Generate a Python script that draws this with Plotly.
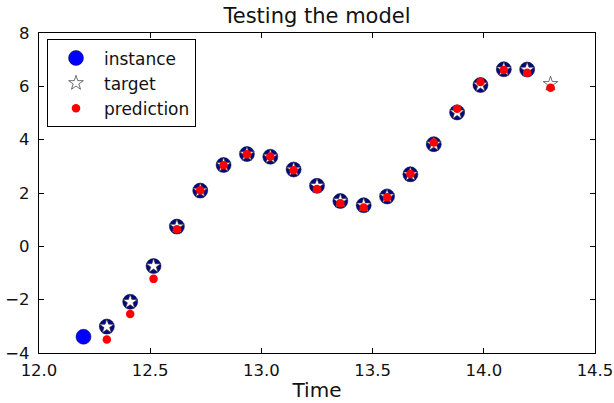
import plotly.graph_objects as go

# Time stamps of the instance window (21 steps)
time_steps = [12.2, 12.305, 12.41, 12.515, 12.62, 12.725, 12.83, 12.935, 13.04,
              13.145, 13.25, 13.355, 13.46, 13.565, 13.67, 13.775, 13.88,
              13.985, 14.09, 14.195, 14.3]

# Series values
series_values = [-3.39, -3.01, -2.08, -0.74, 0.74, 2.09, 3.05, 3.46, 3.36,
                 2.88, 2.27, 1.70, 1.54, 1.87, 2.70, 3.83, 5.02, 6.05,
                 6.64, 6.63, 6.09]

# Model predictions (aligned with target times)
prediction_values = [-3.49, -2.54, -1.22, 0.64, 2.10, 3.04, 3.45, 3.37, 2.85,
                     2.15, 1.62, 1.46, 1.84, 2.71, 3.89, 5.16, 6.16, 6.61,
                     6.51, 5.95]

x_ticks = [12.0, 12.5, 13.0, 13.5, 14.0, 14.5]
y_ticks = [-4, -2, 0, 2, 4, 6, 8]

instance_t = time_steps[:-1]
instance_v = series_values[:-1]
target_t = time_steps[1:]
target_v = series_values[1:]

FONT = "DejaVu Sans"

inst_colors = ["#0000ff"] + ["#00087f"] * (len(instance_t) - 1)

fig = go.Figure()
fig.add_trace(go.Scatter(
    x=instance_t, y=instance_v, mode="markers", name="instance",
    marker=dict(symbol="circle", size=15, color=inst_colors,
                line=dict(color="#000040", width=0.5)),
))
fig.add_trace(go.Scatter(
    x=target_t, y=target_v, mode="markers", name="target",
    marker=dict(symbol="star", size=11, color="white",
                line=dict(color="#333333", width=0.7)),
))
fig.add_trace(go.Scatter(
    x=target_t, y=prediction_values, mode="markers", name="prediction",
    marker=dict(symbol="circle", size=8.5, color="#ff0000",
                line=dict(width=0)),
))

axis_common = dict(
    showline=True, linecolor="black", linewidth=1.3, mirror="ticks",
    ticks="inside", ticklen=5, tickwidth=1, tickcolor="black",
    showgrid=False, zeroline=False, automargin=False,
    tickfont=dict(family=FONT, size=16.5, color="#111111"),
)

fig.update_layout(
    width=614, height=403,
    margin=dict(l=39, r=19, t=33, b=50),
    paper_bgcolor="white", plot_bgcolor="white",
    font=dict(family=FONT, color="#111111"),
    title=dict(text="Testing the model", x=0.5, xanchor="center",
               xref="paper", y=1, yref="container", yanchor="top",
               pad=dict(t=8),
               font=dict(family=FONT, size=21, color="#111111")),
    xaxis=dict(range=[12.0, 14.5], tickvals=x_ticks,
               ticktext=[f"{v:.1f}" for v in x_ticks],
               ticklabelstandoff=2,
               title=dict(text="Time", font=dict(family=FONT, size=20, color="#111111"),
                          standoff=4),
               **axis_common),
    yaxis=dict(range=[-4, 8], tickvals=y_ticks,
               ticktext=[("\u2212" if v < 0 else "") + str(abs(v)) for v in y_ticks],
               ticklabelstandoff=5,
               **axis_common),
    showlegend=True,
    legend=dict(x=0.0144, y=0.98, xanchor="left", yanchor="top",
                bordercolor="black", borderwidth=1, bgcolor="white",
                font=dict(family=FONT, size=17, color="#111111"),
                itemsizing="trace", itemwidth=46),
)

fig.write_html("out.html",
               config={"displayModeBar": False},
               post_script="document.body.style.margin='0';document.body.style.overflow='hidden';")
